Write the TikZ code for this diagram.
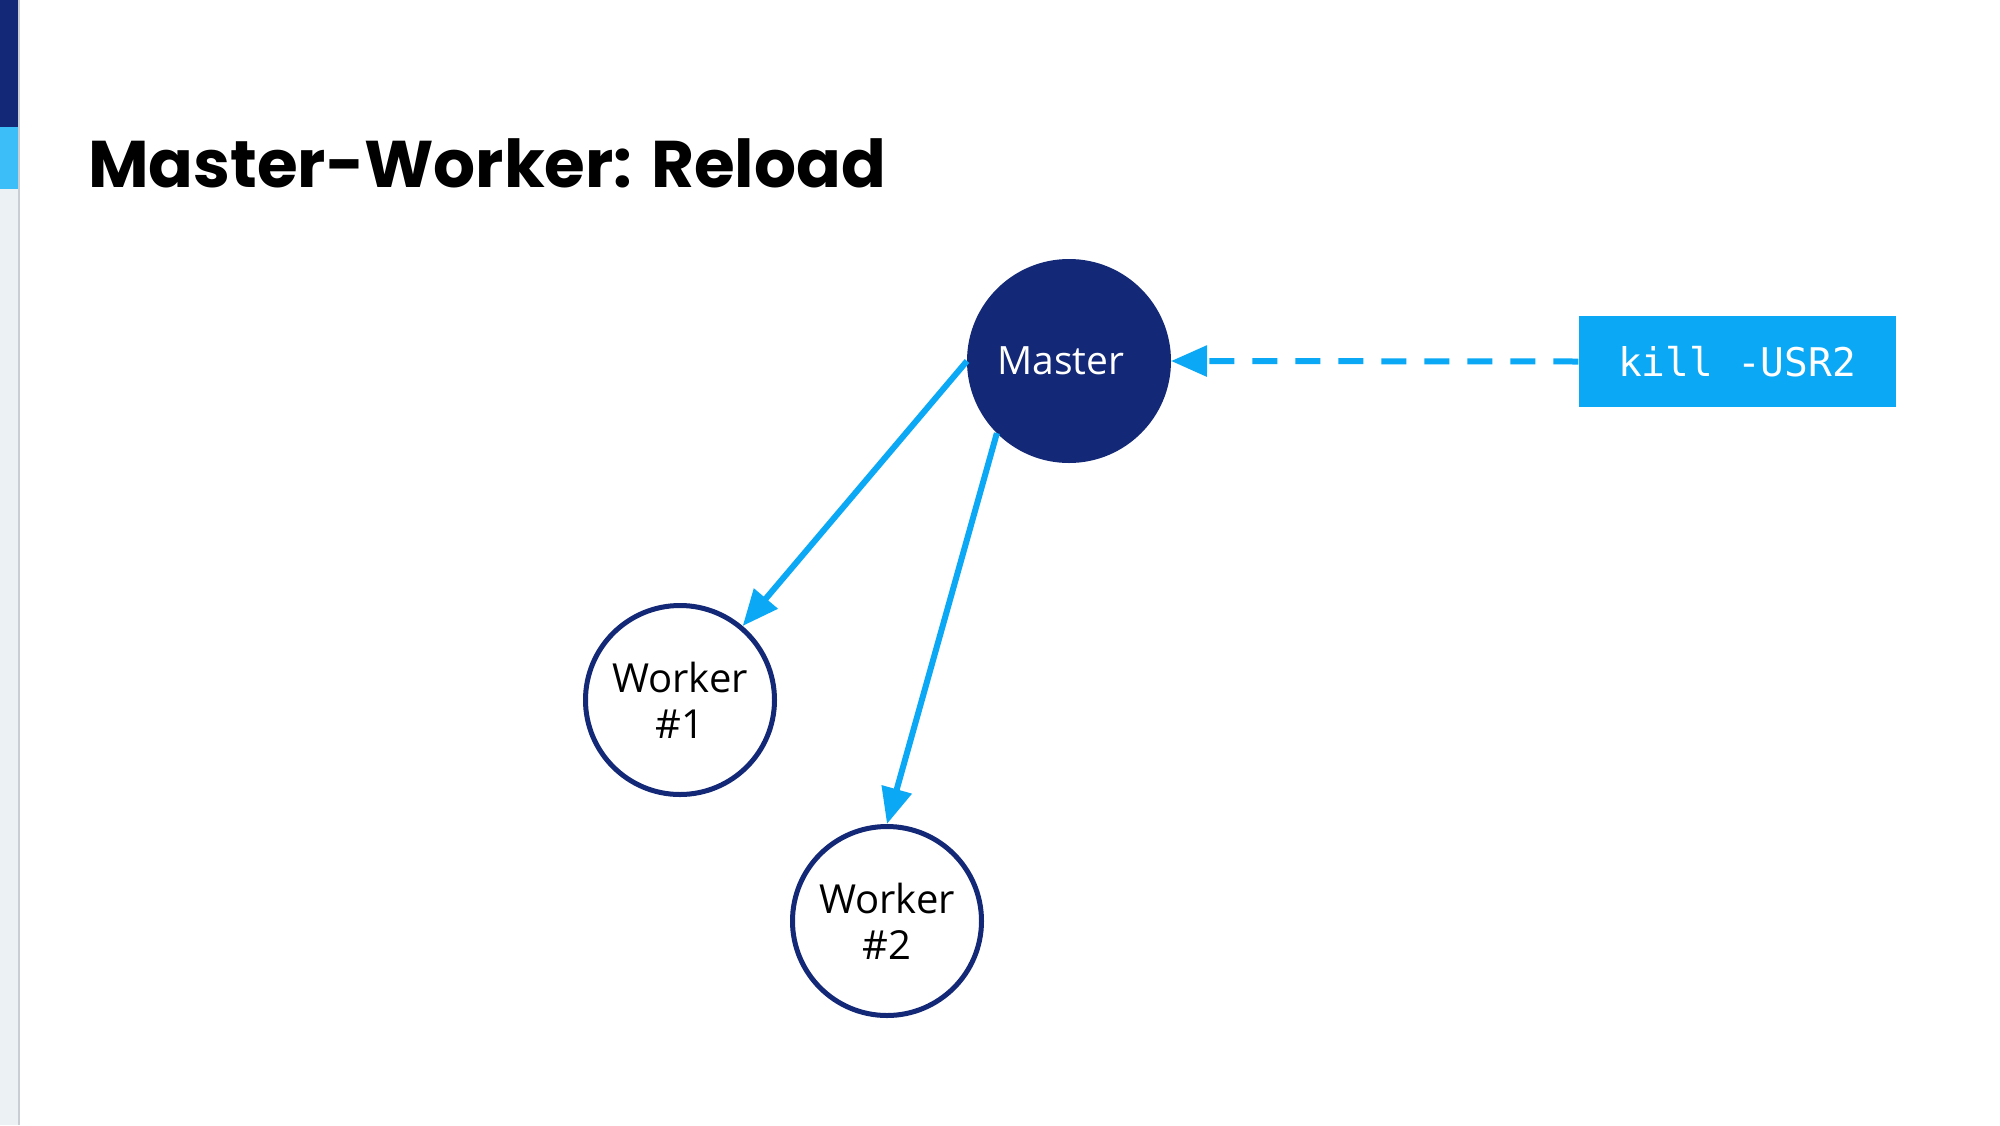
\documentclass[tikz,border=0pt]{standalone}
\usepackage{fontspec}
\setmainfont{Open Sans}
\newfontfamily\titlefont{Poppins}
\newfontfamily\codefont{DejaVu Sans Mono}
\usetikzlibrary{arrows.meta}
\definecolor{navy}{RGB}{19,40,118}
\definecolor{sky}{RGB}{10,168,245}
\definecolor{skylight}{RGB}{60,190,248}
\definecolor{barbg}{RGB}{236,241,244}
\definecolor{barline}{RGB}{200,206,212}
\tikzset{
  worker/.style={circle, draw=navy, line width=5pt, fill=white, minimum size=189pt, inner sep=0pt,
    font=\fontsize{40}{46}\selectfont, text=black},
  master/.style={circle, draw=navy, fill=navy, line width=2pt, minimum size=202pt, inner sep=0pt},
  cmdbox/.style={rectangle, fill=sky, minimum width=317pt, minimum height=91pt, inner sep=0pt,
    font=\codefont\fontsize{39.5}{46}\selectfont, text=white},
  link/.style={draw=sky, line width=6pt, -{Triangle[length=36pt, width=30pt]}},
}
\begin{document}
\begin{tikzpicture}[x=1pt, y=-1pt]
\useasboundingbox (0,0) rectangle (2000,1125);
\fill[white] (0,0) rectangle (2000,1125);
% left bar
\fill[barbg] (0,0) rectangle (18,1125);
\fill[navy] (0,0) rectangle (18,127);
\fill[skylight] (0,127) rectangle (18,189);
\fill[barline] (18,0) rectangle (19.5,1125);
% title
\node[anchor=base west, inner sep=0pt, font=\titlefont\bfseries\fontsize{66}{78}\selectfont] (title) at (88,187) {Master-Worker: Reload};
% nodes
\node[master] (M) at (1069,361) {};
\node[text=white, font=\fontsize{39}{46}\selectfont, inner sep=0pt] (Mlabel) at (1061,361) {Master};
\node[worker] (W1) at (680,700) {\raisebox{-4pt}{\parbox{140pt}{\centering Worker\\\#1}}};
\node[worker] (W2) at (887,921) {\raisebox{-4pt}{\parbox{140pt}{\centering Worker\\\#2}}};
\node[cmdbox] (K) at (1737,361.5) {kill -USR2};
% connectors
\draw[link, dash pattern=on 25pt off 18pt] (K.west) -- (M.east);
\draw[link] (M.west) -- (W1);
\draw[link] (M.225) -- (W2.north);
\end{tikzpicture}
\end{document}
